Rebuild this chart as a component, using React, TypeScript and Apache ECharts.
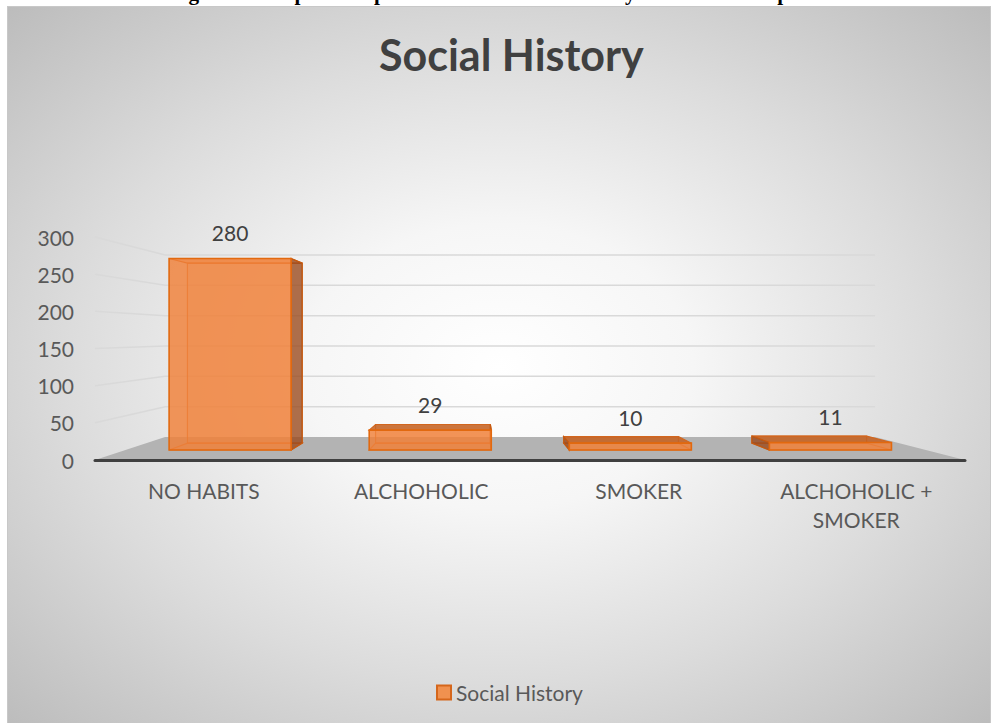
import React, { useEffect, useRef } from "react";
import * as echarts from "echarts";

// ---- data ----
const categories = ["NO HABITS", "ALCHOHOLIC", "SMOKER", "ALCHOHOLIC +\nSMOKER"];
const values = [280, 29, 10, 11];
const yTicks = [0, 50, 100, 150, 200, 250, 300];
const seriesName = "Social History";
const titleText = "Social History";
const captionText = "Figure 8: Graphical representation of social history of the enrolled patients";

// ---- 3D view (one-point perspective) ----
const VX = 476;
const VY = 335;
const S_WALL = 0.816; // back wall depth factor
const S_BAR_FRONT = 0.92;
const S_BAR_BACK = 0.865;
const BAR_RATIO = 0.61;

function proj(x: number, y: number, s: number): number[] {
  return [VX + (x - VX) * s, VY + (y - VY) * s];
}

export default function App() {
  const ref = useRef<HTMLDivElement>(null);

  useEffect(() => {
    if (!ref.current) return;
    const chart = echarts.init(ref.current, undefined, { renderer: "svg" });

    const gridData = yTicks.map((v) => [0, v]);
    const barData = values.map((v, i) => [i, v]);

    const option: any = {
      animation: false,
      backgroundColor: "transparent",
      title: {
        text: titleText,
        left: 374,
        top: 28,
        textStyle: {
          fontFamily: "Lato",
          fontWeight: "bold",
          fontSize: 43,
          color: "#404040",
        },
      },
      legend: {
        data: [{ name: seriesName, icon: "rect" }],
        left: 431,
        top: 677,
        itemWidth: 14,
        itemHeight: 14,
        textStyle: { fontFamily: "Lato", fontSize: 21, color: "#595959" },
      },
      grid: { left: 95, right: 30, top: 237, bottom: 263 },
      xAxis: {
        type: "category",
        data: categories,
        z: 6,
        axisLine: { show: true, lineStyle: { color: "#404040", width: 3 } },
        axisTick: { show: false },
        axisLabel: {
          fontFamily: "Lato",
          fontSize: 21,
          color: "#595959",
          margin: 16,
          lineHeight: 29,
          interval: 0,
        },
        splitLine: { show: false },
      },
      yAxis: {
        type: "value",
        min: 0,
        max: 300,
        interval: 50,
        axisLine: { show: false },
        axisTick: { show: false },
        splitLine: { show: false },
        axisLabel: {
          fontFamily: "Lato",
          fontSize: 21,
          color: "#595959",
          margin: 21,
        },
      },
      series: [
        {
          type: "custom",
          name: "walls",
          z: 1,
          silent: true,
          data: gridData,
          encode: { x: 0, y: 1 },
          renderItem: (params: any, api: any) => {
            const v = api.value(1);
            const cs = params.coordSys;
            const fy = api.coord([0, v])[1];
            const xl = cs.x;
            const xr = cs.x + cs.width;
            const bl = proj(xl, fy, S_WALL);
            const br = proj(xr, fy, S_WALL);
            if (v === 0) {
              return {
                type: "polygon",
                shape: { points: [[xl, fy], bl, br, [xr, fy]] },
                style: { fill: "#b3b3b3" },
              };
            }
            return {
              type: "polyline",
              shape: { points: [[xl, fy], bl, br] },
              style: { stroke: "#d9d9d9", lineWidth: 1.5, fill: "none" },
            };
          },
        },
        {
          type: "custom",
          name: seriesName,
          z: 3,
          data: barData,
          encode: { x: 0, y: 1 },
          itemStyle: { color: "#F0914F", borderColor: "#D5661B", borderWidth: 1.5 },
          renderItem: (params: any, api: any) => {
            const xi = api.value(0);
            const v = api.value(1);
            const top = api.coord([xi, v]);
            const base = api.coord([xi, 0]);
            const band = api.size([1, 0])[0];
            const w = band * BAR_RATIO;
            const cx = top[0] + 5;
            const x0 = cx - w / 2;
            const x1 = cx + w / 2;
            const yT = top[1];
            const yB = base[1];
            const fTL = proj(x0, yT, S_BAR_FRONT);
            const fTR = proj(x1, yT, S_BAR_FRONT);
            const fBR = proj(x1, yB, S_BAR_FRONT);
            const fBL = proj(x0, yB, S_BAR_FRONT);
            const bTL = proj(x0, yT, S_BAR_BACK);
            const bTR = proj(x1, yT, S_BAR_BACK);
            const bBR = proj(x1, yB, S_BAR_BACK);
            const bBL = proj(x0, yB, S_BAR_BACK);
            const edge = "rgba(214,96,20,0.75)";
            const children: any[] = [];
            children.push({
              type: "polygon",
              shape: { points: [bTL, bTR, bBR, bBL] },
              style: { fill: "rgba(238,125,49,0.12)", stroke: edge, lineWidth: 1.2 },
            });
            children.push({
              type: "polygon",
              shape: { points: [fBL, fBR, bBR, bBL] },
              style: { fill: "rgba(238,125,49,0.15)", stroke: edge, lineWidth: 1.2 },
            });
            const seenFromAbove = yT > VY;
            children.push({
              type: "polygon",
              shape: { points: [fTL, fTR, bTR, bTL] },
              style: {
                fill: seenFromAbove ? "rgba(196,96,32,0.85)" : "rgba(238,125,49,0.3)",
                stroke: "#D2661E",
                lineWidth: 1.2,
              },
            });
            const side = cx < VX ? [fTR, bTR, bBR, fBR] : [fTL, bTL, bBL, fBL];
            children.push({
              type: "polygon",
              shape: { points: side },
              style: { fill: "rgba(150,70,25,0.75)", stroke: "#C55A11", lineWidth: 1.2 },
            });
            children.push({
              type: "polygon",
              shape: { points: [fTL, fTR, fBR, fBL] },
              style: { fill: "rgba(240,128,56,0.82)", stroke: "#E2690F", lineWidth: 1.6 },
            });
            children.push({
              type: "text",
              x: (fTL[0] + fTR[0]) / 2,
              y: fTL[1] - 26,
              style: {
                text: String(v),
                fontFamily: "Lato",
                fontSize: 21,
                fill: "#404040",
                align: "center",
                verticalAlign: "middle",
              },
            });
            return { type: "group", children };
          },
        },
      ],
    };

    chart.setOption(option);
    return () => chart.dispose();
  }, []);

  return (
    <div
      style={{
        position: "fixed",
        left: 0,
        top: 0,
        width: 995,
        height: 723,
        background: "#ffffff",
        overflow: "hidden",
      }}
    >
      <div
        style={{
          position: "absolute",
          left: 0,
          top: 0,
          width: 995,
          height: 6,
          overflow: "hidden",
        }}
      >
        <div
          style={{
            position: "absolute",
            left: 12,
            top: -19,
            width: 995,
            textAlign: "center",
            whiteSpace: "nowrap",
            fontFamily: '"Liberation Serif", serif',
            fontWeight: "bold",
            fontSize: 21.3,
            lineHeight: "normal",
            color: "#000",
          }}
        >
          {captionText}
        </div>
      </div>
      <div
        style={{
          position: "absolute",
          left: 7,
          top: 6,
          width: 984,
          height: 722,
          boxSizing: "border-box",
          border: "1px solid #c8c8c8",
          background:
            "radial-gradient(ellipse farthest-corner at 50% 50%, #ffffff 0%, #f6f6f6 28%, #dcdcdc 62%, #bcbcbc 100%)",
        }}
      />
      <div
        ref={ref}
        style={{ position: "absolute", left: 0, top: 0, width: 995, height: 723 }}
      />
    </div>
  );
}
